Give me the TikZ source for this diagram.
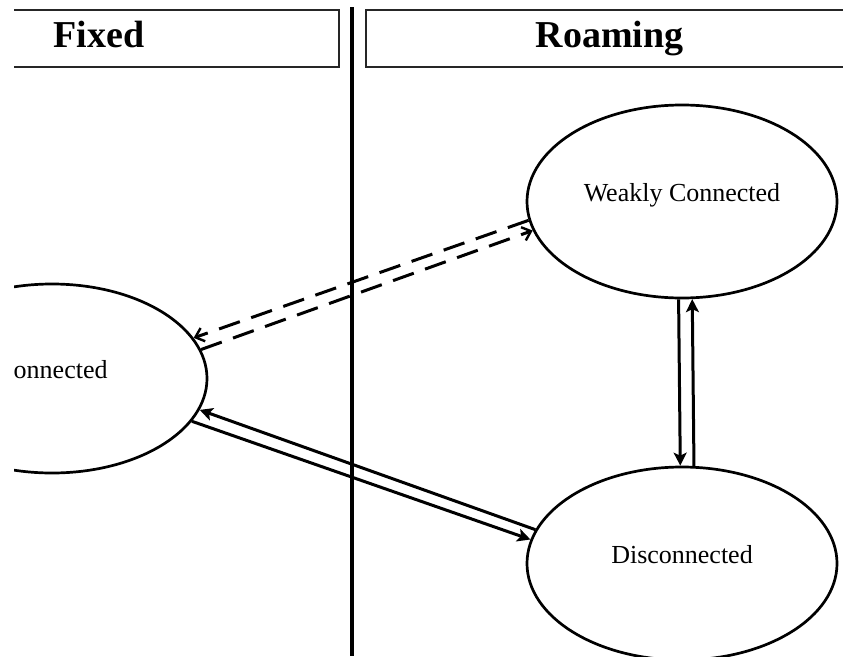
\documentclass[tikz,border=0pt]{standalone}
\usepackage{fontspec}
\setmainfont{Liberation Serif}
\usetikzlibrary{shapes.geometric,arrows.meta}

\begin{document}
\begin{tikzpicture}[x=1pt,y=-1pt,
  state/.style={draw, ellipse, line width=2.7pt,
    minimum width=310pt, minimum height=193pt, inner sep=0pt,
    font=\fontsize{26}{28}\selectfont, text height=18pt, text depth=19pt},
  headline/.style={line width=2pt, draw=black!85},
  headtext/.style={font=\bfseries\fontsize{38}{40}\selectfont, anchor=base, inner sep=0pt},
  divider/.style={line width=3.5pt},
  link/.style={line width=3pt},
  softlink/.style={line width=3pt, dash pattern=on 22pt off 12pt},
  solidtip/.style={-{Stealth[length=13pt,width=13pt,inset=3pt]}},
  opentip/.style={-{Straight Barb[length=8pt,width=14pt,line width=2.4pt]}}
]
\useasboundingbox (0,0) rectangle (843,656);
\fill[white] (0,0) rectangle (843,656);

\begin{scope}
  \clip (14,0) rectangle (843,656);

  % column headers
  \draw[headline] (0,9.5) -| (339,67) -- (0,67);
  \draw[headline] (843,9.5) -| (366,67) -- (843,67);
  \node[headtext] (fixedhead) at (99,47) {Fixed};
  \node[headtext] (roaminghead) at (609.5,47) {Roaming};

  % column divider
  \draw[divider] (352,7) -- (352,656);

  % connection states
  \node[state, minimum height=189pt] (L) at (52,378.5) {Connected};
  \node[state] (W) at (682,201.5) {Weakly Connected};
  \node[state] (D) at (682,563.5) {Disconnected};

  % weak links
  \draw[softlink, opentip] (W.187.6) -- (L.16);
  \draw[softlink, opentip] (L.11.8) -- (W.191.9);

  % strong links
  \draw[link, solidtip] (D.167.2) -- (L.-12.5);
  \draw[link, solidtip] (L.-17.3) -- (D.171.8);
  \draw[link, solidtip] (W.268.2) -- (D.91.8);
  \draw[link, solidtip] (D.83.5) -- (W.276.5);
\end{scope}
\end{tikzpicture}
\end{document}
